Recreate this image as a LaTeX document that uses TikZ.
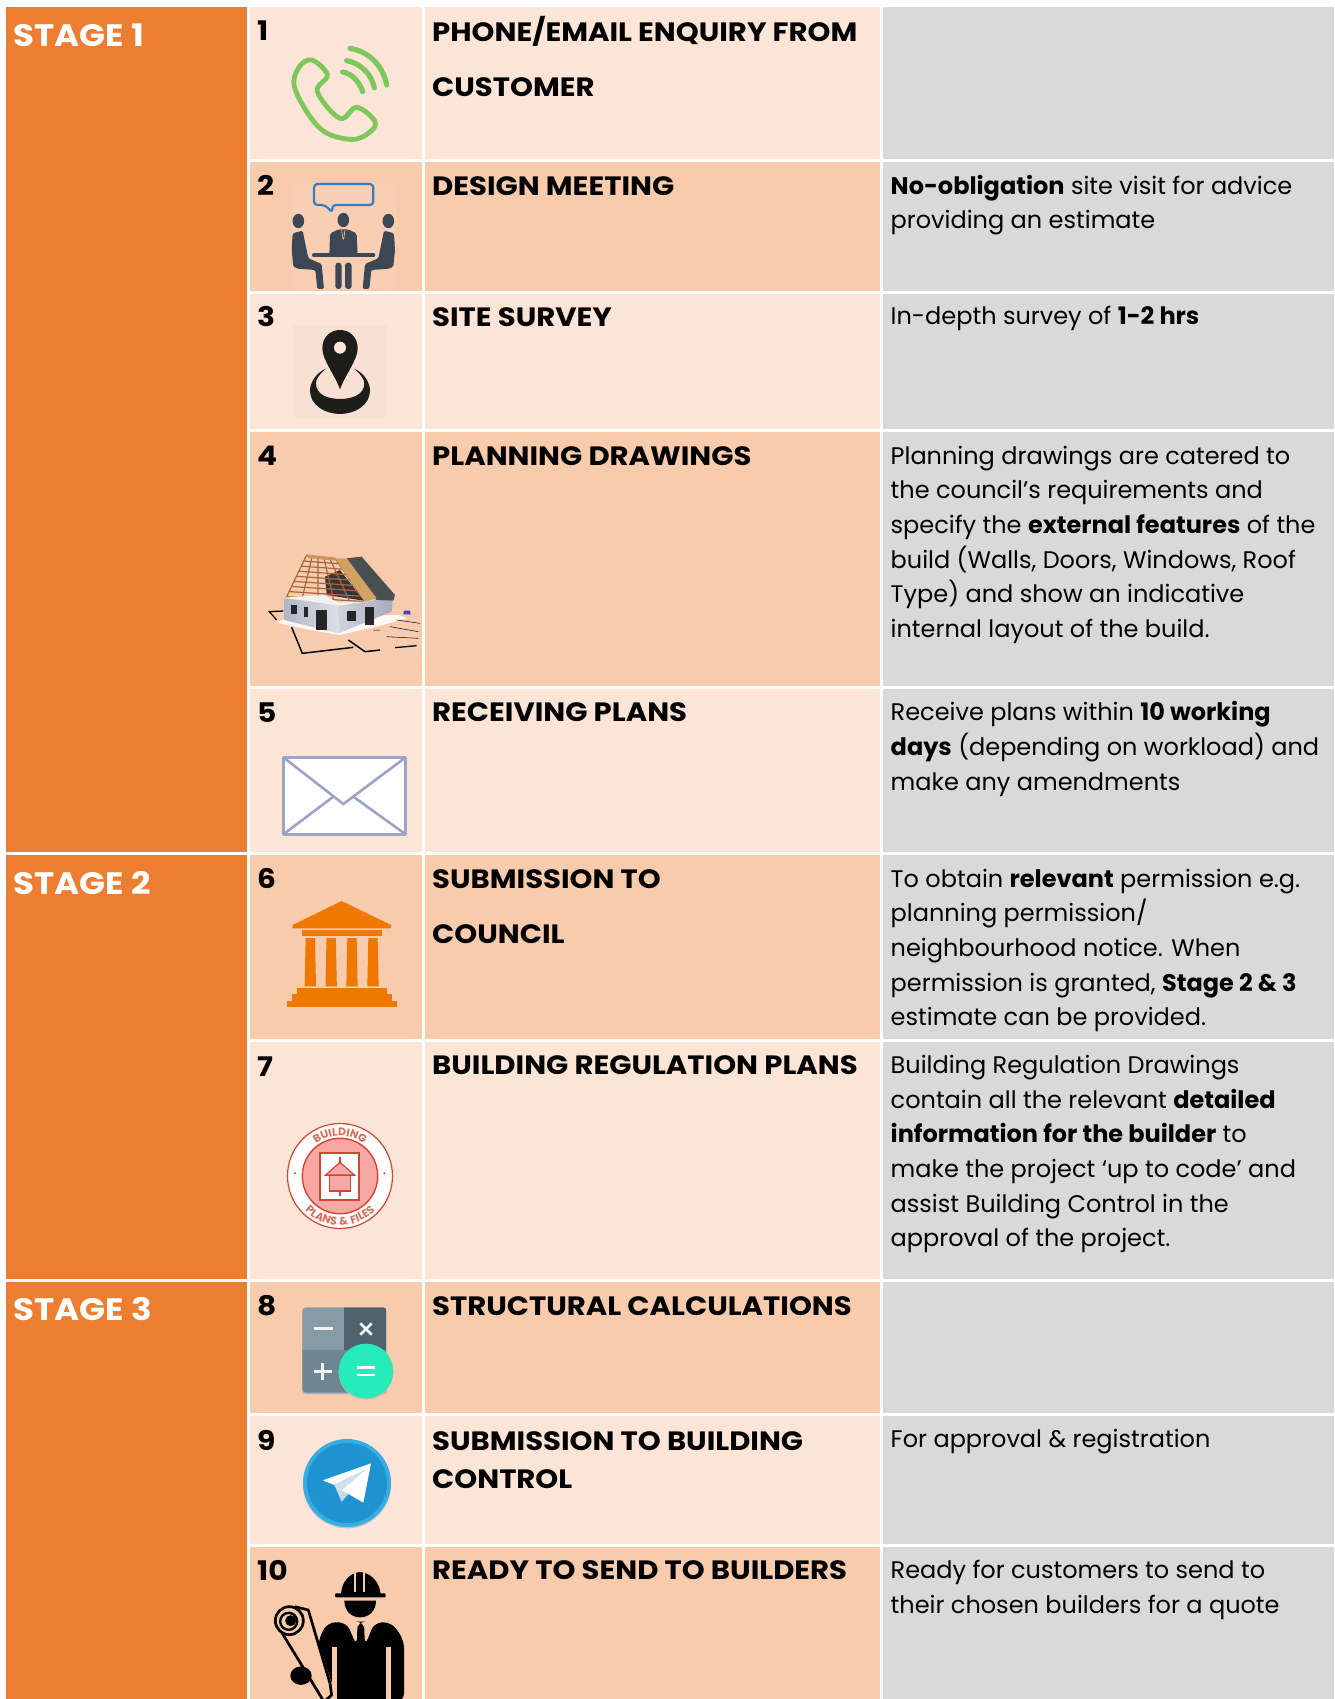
\documentclass[tikz,border=0pt]{standalone}
\usepackage{fontspec}
\setmainfont{Poppins}
\newfontfamily\widef[BoldFeatures={FakeStretch=1.1}]{Poppins}
\newfontfamily\badgefam[LetterSpace=10]{Poppins}
\usetikzlibrary{decorations.text}
\definecolor{stageor}{HTML}{ED7D31}
\definecolor{rowlt}{HTML}{FCE4D6}
\definecolor{rowdk}{HTML}{F8CBAD}
\definecolor{cellgy}{HTML}{D9D9D9}
\definecolor{phonegr}{HTML}{7DC75B}
\definecolor{peopled}{HTML}{3D4653}
\definecolor{bubbleb}{HTML}{2E7FC8}
\definecolor{pinblk}{HTML}{1D1D1B}
\definecolor{envl}{HTML}{9BA3C8}
\definecolor{bankor}{HTML}{F07800}
\definecolor{badger}{HTML}{D8432F}
\definecolor{badgep}{HTML}{F7A8A5}
\definecolor{wood}{HTML}{A9663A}
\definecolor{woodl}{HTML}{D2A263}
\definecolor{roofg}{HTML}{4A4F52}
\definecolor{walla}{HTML}{AEB7C6}
\definecolor{wallb}{HTML}{DCE0E6}
\definecolor{wallc}{HTML}{D0D5DD}
\definecolor{walld}{HTML}{A3ACBB}
\newcommand{\Rs}{\rule{0pt}{20pt}}
\newcommand{\badgef}{\badgefam\fontsize{11}{11}\selectfont\bfseries\color{badger!80!white}}
\tikzset{
 x=1pt,y=-1pt,
 zoomat/.style 2 args={xshift=#1pt,yshift=-#2pt,x=0.33333pt,y=-0.33333pt},
 stagetxt/.style={anchor=base west,inner sep=0,text=white,font=\widef\fontsize{31}{31}\selectfont\bfseries},
 numtxt/.style={anchor=base west,inner sep=0,font=\widef\fontsize{27}{27}\selectfont\bfseries},
 titletxt/.style={anchor=north west,inner sep=0,align=left,font=\widef\fontsize{26.5}{#1}\selectfont\bfseries},
 titletxt/.default=55,
 bodytxt/.style={anchor=north west,inner sep=0,align=left,font=\fontsize{24}{34.68}\selectfont},
}
\begin{document}
\begin{tikzpicture}
\useasboundingbox (0,0) rectangle (1334,1699);
\fill[white] (0,0) rectangle (1334,1699);
% stage column
\fill[stageor] (6,7) rectangle (247,852);
\fill[stageor] (6,855) rectangle (247,1279);
\fill[stageor] (6,1282) rectangle (247,1699);
% rows
\foreach \ya/\yb/\c in {7/159/rowlt,162/291/rowdk,294/429/rowlt,432/686/rowdk,689/852/rowlt,855/1039/rowdk,1042/1279/rowlt,1282/1413/rowdk,1416/1544/rowlt,1547/1699/rowdk}{
 \fill[\c] (250,\ya) rectangle (422,\yb);
 \fill[\c] (425,\ya) rectangle (880,\yb);
 \fill[cellgy] (883,\ya) rectangle (1334,\yb);
}
% stage labels
\node[stagetxt] (s1) at (13,46.5) {STAGE 1};
\node[stagetxt] (s2) at (13,894) {STAGE 2};
\node[stagetxt] (s3) at (13,1320) {STAGE 3};
% numbers
\foreach \n/\yy in {1/41,2/195.5,3/326.5,4/465.5,5/722.5,6/888.5,7/1076,8/1315,9/1450,10/1580.5}{
 \node[numtxt] (n\n) at (257,\yy) {\n};
}
% titles
\node[titletxt] (t1) at (432,16.5) {\Rs PHONE/EMAIL ENQUIRY FROM\\CUSTOMER};
\node[titletxt] (t2) at (432,175) {\Rs DESIGN MEETING};
\node[titletxt] (t3) at (432,306) {\Rs SITE SURVEY};
\node[titletxt] (t4) at (432,445) {\Rs PLANNING DRAWINGS};
\node[titletxt] (t5) at (432,701.5) {\Rs RECEIVING PLANS};
\node[titletxt] (t6) at (432,868) {\Rs SUBMISSION TO\\COUNCIL};
\node[titletxt] (t7) at (432,1054.5) {\Rs BUILDING REGULATION PLANS};
\node[titletxt] (t8) at (432,1295) {\Rs STRUCTURAL CALCULATIONS};
\node[titletxt=38] (t9) at (432,1430) {\Rs SUBMISSION TO BUILDING\\CONTROL};
\node[titletxt] (t10) at (432,1559) {\Rs READY TO SEND TO BUILDERS};
% descriptions
\node[bodytxt] (d2) at (890.5,174) {\Rs\textbf{No-obligation} site visit for advice\\providing an estimate};
\node[bodytxt] (d3) at (890.5,304) {\Rs In-depth survey of \textbf{1-2 hrs}};
\node[bodytxt] (d4) at (890.5,444) {\Rs Planning drawings are catered to\\the council’s requirements and\\specify the \textbf{external features} of the\\build (Walls, Doors, Windows, Roof\\Type) and show an indicative\\internal layout of the build.};
\node[bodytxt] (d5) at (890.5,700.5) {\Rs Receive plans within \textbf{10 working}\\\textbf{days} (depending on workload) and\\make any amendments};
\node[bodytxt] (d6) at (890.5,866.8) {\Rs To obtain \textbf{relevant} permission e.g.\\planning permission/\\neighbourhood notice. When\\permission is granted, \textbf{Stage 2 \& 3}\\estimate can be provided.};
\node[bodytxt] (d7) at (890.5,1053.2) {\Rs Building Regulation Drawings\\contain all the relevant \textbf{detailed}\\\textbf{information for the builder} to\\make the project ‘up to code’ and\\assist Building Control in the\\approval of the project.};
\node[bodytxt] (d9) at (890.5,1427) {\Rs For approval \& registration};
\node[bodytxt] (d10) at (890.5,1558.5) {\Rs Ready for customers to send to\\their chosen builders for a quote};

% ---- phone
\begin{scope}[zoomat={240}{0}]
 \draw[phonegr,line width=4.8pt,line join=round] plot[smooth cycle,tension=.62] coordinates {(215,180)(262,225)(232,275)(300,355)(350,322)(405,365)(385,400)(330,418)(240,385)(166,270)(175,205)};
 \draw[phonegr,line width=5.2pt,line cap=round] (330,145) .. controls (390,155) and (430,200) .. (440,255);
 \draw[phonegr,line width=5.2pt,line cap=round] (320,182) .. controls (365,190) and (395,225) .. (403,263);
 \draw[phonegr,line width=5.2pt,line cap=round] (308,216) .. controls (340,222) and (360,250) .. (368,275);
% ---- meeting
 \fill[rowdk!93!white] (155,550) rectangle (468,867);
 \draw[bubbleb,line width=2.2pt,rounded corners=3.5pt,line join=round] (277,615)--(400,615)--(400,552)--(222,552)--(222,615)--(255,615)--(277,638)--cycle;
 \fill[peopled] (175,663) ellipse [x radius=5.8pt,y radius=7.2pt];
 \fill[peopled] (310,660) ellipse [x radius=5.8pt,y radius=7.2pt];
 \fill[peopled] (445,663) ellipse [x radius=5.8pt,y radius=7.2pt];
 \fill[peopled,rounded corners=2pt] (268,770)--(270,700)--(296,688)--(324,688)--(350,700)--(353,770)--cycle;
 \draw[rowdk,line width=.6pt] (305,690)--(309,718) (315,690)--(311,718);
 \draw[peopled,line width=4pt,line cap=round] (222,766)--(400,766);
 \fill[peopled,rounded corners=3pt] (286,867)--(286,788)--(305,788)--(305,867)--cycle;
 \fill[peopled,rounded corners=3pt] (315,867)--(315,788)--(335,788)--(335,867)--cycle;
 \foreach \sx/\ox in {1/0,-1/620}{
  \fill[peopled,rounded corners=1.5pt] ({\ox+\sx*158},700)--({\ox+\sx*188},692)--({\ox+\sx*205},775)--({\ox+\sx*245},792)--({\ox+\sx*252},867)--({\ox+\sx*232},867)--({\ox+\sx*226},810)--({\ox+\sx*172},806)--({\ox+\sx*160},800)--({\ox+\sx*155},750)--cycle;
 }
% ---- pin
 \fill[rowlt!97!gray] (160,975) rectangle (440,1255);
 \fill[pinblk] (300,1168) .. controls (285,1125) and (247,1080) .. (247,1045) .. controls (247,1010) and (272,990) .. (300,990) .. controls (328,990) and (353,1010) .. (353,1045) .. controls (353,1080) and (315,1125) .. (300,1168) -- cycle;
 \fill[rowlt] (300,1043) circle [radius=6pt];
 \fill[pinblk] (258,1106) .. controls (225,1120) and (210,1150) .. (210,1172) .. controls (210,1215) and (255,1242) .. (300,1242) .. controls (345,1242) and (390,1215) .. (390,1172) .. controls (390,1150) and (375,1120) .. (342,1106) .. controls (365,1125) and (373,1140) .. (373,1150) .. controls (373,1185) and (335,1197) .. (300,1197) .. controls (265,1197) and (228,1185) .. (228,1150) .. controls (228,1140) and (235,1125) .. (258,1106) -- cycle;
\end{scope}

\begin{scope}[zoomat={240}{430}]
% ---- house
 \foreach \a/\b in {85/540,110/640,200/690,300/700,100/600}{\draw[gray!28,line width=.2pt] (\a,\b)--(540,\b-30);}
 \foreach \a in {120,160,200,420,470,510}{\draw[gray!28,line width=.2pt] (\a,530)--(\a+20,725);}
 \fill[white!85!rowdk] (110,578)--(145,560)--(480,555)--(500,565)--(430,585)--(300,615)--(210,600)--cycle;
 \draw[black,line width=1.3pt] (130,543)--(88,545)--(110,570);
 \draw[black,line width=1.5pt] (155,592)--(187,670)--(340,652);
 \draw[black,line width=1.5pt] (325,630)--(375,665)--(420,660);
 \draw[black,line width=1.3pt] (465,653)--(530,647);
 \draw[black,line width=.5pt] (470,570)--(540,580) (400,600)--(420,600) (450,590)--(535,605) (440,620)--(535,625);
 \fill[blue!50!gray] (492,542)--(510,542)--(512,553)--(490,553)--cycle;
 \fill[roofg] (320,385)--(365,380)--(465,495)--(460,512)--(410,512)--cycle;
 \fill[roofg!70!black] (255,440)--(300,420)--(372,512)--(260,495)--cycle;
 \foreach \t in {0,.125,...,1.01}{
  \draw[wood,line width=1.2pt] ({200-60*\t},{378+122*\t})--({285+90*\t},{385+130*\t});
 }
 \foreach \t in {0,.2,...,1.01}{
  \draw[wood,line width=1.2pt] ({200+85*\t},{375+10*\t})--({140+235*\t},{500+15*\t});
 }
 \fill[woodl] (285,385)--(320,385)--(410,505)--(375,515)--cycle;
 \fill[woodl!80!wood] (198,373)--(285,383)--(288,392)--(205,384)--cycle;
 \shade[left color=walla,right color=wallb] (132,505)--(250,520)--(295,525)--(295,610)--(132,570)--cycle;
 \shade[left color=wallc,right color=walld] (295,525)--(410,510)--(458,513)--(455,545)--(295,610)--cycle;
 \fill[white!90!gray] (132,503)--(250,520)--(295,527)--(410,510)--(375,515)--(295,518)--(250,495)--cycle;
 \fill[black!85] (153,525) rectangle (170,552);
 \fill[black!85] (192,532) rectangle (203,560);
 \fill[black!85] (229,539) rectangle (260,600);
 \fill[black!85] (320,542) rectangle (347,573);
 \fill[black!85] (376,532) rectangle (401,585);
% ---- envelope
 \fill[white] (130,982) rectangle (497,1213);
 \draw[envl,line width=2.8pt,line join=round] (130,982) rectangle (497,1213);
 \draw[envl,line width=2.6pt] (130,982)--(310,1122)--(497,982);
 \draw[envl,line width=2.6pt] (130,1213)--(280,1100) (497,1213)--(340,1100);
\end{scope}

\begin{scope}[zoomat={240}{850}]
% ---- bank
 \fill[bankor] (158,225)--(305,153)--(453,225)--(453,235)--(158,235)--cycle;
 \fill[bankor] (187,240) rectangle (425,258);
 \foreach \d in {0,62.5,125,188}{
  \fill[bankor] ({197+\d},264)--({225+\d},264)--({228+\d},409)--({194+\d},409)--cycle;
 }
 \fill[bankor] (172,415) rectangle (440,433);
 \fill[bankor] (157,433) rectangle (456,452);
 \fill[bankor] (141,452) rectangle (471,470);
% ---- badge
 \fill[white,draw=badger,line width=1.2pt] (300,978) circle [radius=52.5pt];
 \fill[badgep,draw=badger,line width=1.4pt] (300,978) circle [radius=37.7pt];
 \fill[white,draw=badger,line width=1.8pt] (240,908) rectangle (358,1050);
 \fill[badgep,draw=badger,line width=1.6pt] (268,975) rectangle (332,1023);
 \draw[badger,line width=1.6pt,line join=miter] (258,975)--(300,938)--(342,975)--cycle;
 \fill[badgep] (262,973)--(300,941)--(338,973)--cycle;
 \draw[badger,line width=1.4pt] (300,920)--(300,938) (300,1023)--(300,1038);
 \fill[badger] (165,970) circle [radius=1.1pt];
 \fill[badger] (433,970) circle [radius=1.1pt];
 \path[postaction={decorate},decoration={text along path,text align=center,text={|\badgef|BUILDING}}] plot[domain=205:335,samples=40] ({300+120*cos(\x)},{978+120*sin(\x)});
 \path[postaction={decorate},decoration={text along path,text align=center,text={|\badgef|PLANS {\&} FILES}}] plot[domain=150:30,samples=40] ({300+148*cos(\x)},{978+148*sin(\x)});
\end{scope}

\begin{scope}[zoomat={240}{1270}]
% ---- calculator
 \fill[black!30,rounded corners=1.5pt] (187,116) rectangle (440,372);
 \begin{scope}
  \clip[rounded corners=3.5pt] (187,112) rectangle (440,368);
  \fill[fill={rgb,255:red,134;green,155;blue,165}] (187,112) rectangle (313,239);
  \fill[fill={rgb,255:red,80;green,98;blue,107}] (313,112) rectangle (440,239);
  \fill[fill={rgb,255:red,110;green,133;blue,146}] (187,239) rectangle (440,368);
 \end{scope}
 \draw[white!90!gray,line width=2.6pt] (222,175)--(278,175);
 \draw[white!90!gray,line width=2.6pt] (361,160)--(395,194) (361,194)--(395,160);
 \draw[white!90!gray,line width=2.6pt] (222,305)--(275,305) (248,279)--(248,331);
 \fill[black!25] (378,307) circle [radius=27.3pt];
 \fill[fill={rgb,255:red,39;green,235;blue,184}] (378,303) circle [radius=27.3pt];
 \draw[white,line width=2.4pt] (350,292)--(405,292) (350,315)--(405,315);
% ---- telegram
 \fill[black!25] (321,643) circle [radius=44pt];
 \fill[fill={rgb,255:red,55;green,174;blue,226}] (321,639) circle [radius=44pt];
 \fill[fill={rgb,255:red,31;green,147;blue,210}] (321,639) circle [radius=40pt];
 \fill[fill={rgb,255:red,200;green,218;blue,234}] (283,645)--(305,695)--(325,672)--(305,655)--cycle;
 \fill[white,rounded corners=.7pt] (248,631)--(393,580)--(370,698)--(305,660)--(375,600)--(283,645)--cycle;
 \fill[fill={rgb,255:red,208;green,224;blue,238}] (283,645)--(375,600)--(305,660)--(303,670)--cycle;
% ---- builder
 \begin{scope}
 \clip (0,830) rectangle (600,1287);
 \fill[black] (303,972) .. controls (305,935) and (330,908) .. (360,906) .. controls (392,908) and (418,935) .. (422,972) -- cycle;
 \draw[rowdk,line width=1.2pt] (345,905)--(345,965) (372,905)--(372,965);
 \fill[black,rounded corners=1pt] (285,970) rectangle (437,982);
 \fill[black] (313,992) -- (408,992) .. controls (408,1022) and (388,1042) .. (360,1042) .. controls (333,1042) and (313,1022) .. (313,992) -- cycle;
 \fill[black,rounded corners=8pt] (235,1290)--(235,1110)--(262,1057)--(320,1057)--(350,1128)--(352,1090)--(352,1055)--(373,1055)--(373,1090)--(375,1128)--(403,1057)--(455,1057)--(492,1110)--(492,1295)--cycle;
 \fill[rowdk] (275,1130) rectangle (290,1300);
 \fill[rowdk] (437,1130) rectangle (452,1300);
 \fill[rowdk] (235,1245)--(275,1235)--(275,1300)--(235,1300)--cycle;
 \fill[rowdk] (125,1085)--(165,1010)--(205,1020)--(275,1240)--(275,1295)--(250,1300)--cycle;
 \draw[black,line width=2.7pt,line join=round] (122,1082)--(252,1295)--(275,1275)--(270,1240)--(205,1020)--(165,1010);
 \fill[rowdk,draw=black,line width=2.7pt] (148,1052) circle [radius=14pt];
 \draw[black,line width=2.4pt] (146,1054) circle [radius=8.5pt];
 \fill[black] (152,1052) circle [radius=5.5pt];
 \fill[black] (183,1217) ellipse [x radius=10.7pt,y radius=9.2pt];
 \end{scope}
\end{scope}
\end{tikzpicture}
\end{document}
